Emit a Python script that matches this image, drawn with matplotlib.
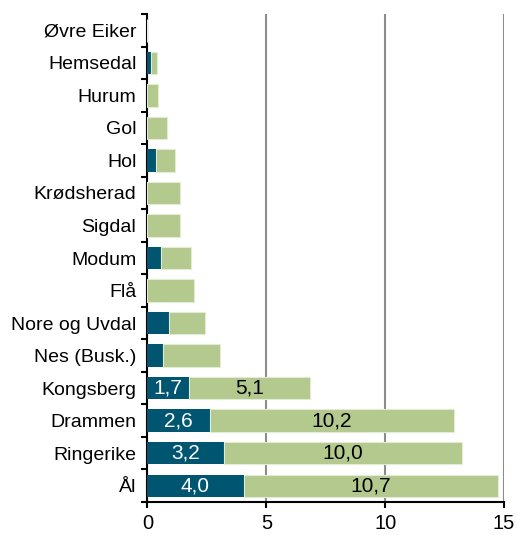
import matplotlib
matplotlib.use("Agg")
import matplotlib.pyplot as plt
import numpy as np

plt.rcParams['font.family'] = ['Liberation Sans', 'DejaVu Sans']

categories = ["Øvre Eiker", "Hemsedal", "Hurum", "Gol", "Hol", "Krødsherad",
              "Sigdal", "Modum", "Flå", "Nore og Uvdal", "Nes (Busk.)",
              "Kongsberg", "Drammen", "Ringerike", "Ål"]
dark_values = [0.0, 0.16, 0.0, 0.0, 0.37, 0.0, 0.0, 0.58, 0.0, 0.89, 0.66,
               1.73, 2.64, 3.2, 4.04]
light_values = [0.0, 0.25, 0.44, 0.81, 0.77, 1.35, 1.35, 1.26, 1.94, 1.53, 2.38,
                5.11, 10.24, 10.04, 10.7]
labelled = ["Kongsberg", "Drammen", "Ringerike", "Ål"]
xticks = [0, 5, 10, 15]

dark_color = "#005570"
light_color = "#b3c98e"

fig = plt.figure(figsize=(5.18, 5.35), dpi=100)
ax = fig.add_axes([0.2847, 0.0617, 0.973 - 0.2847, 0.9738 - 0.0617])

n = len(categories)
y = np.arange(n)[::-1]  # first category at top
h = 0.69

ax.set_axisbelow(True)
ax.barh(y, dark_values, height=h, color=dark_color, zorder=3)
ax.barh(y, light_values, left=dark_values, height=h, color=light_color,
        edgecolor="#e2ebd4", linewidth=0.8, zorder=3)

for cat, yi, d, l in zip(categories, y, dark_values, light_values):
    if cat in labelled:
        ax.text(d / 2, yi, f"{d:.1f}".replace(".", ","), ha="center", va="center",
                color="white", fontsize=15, zorder=4)
        ax.text(d + l / 2, yi, f"{l:.1f}".replace(".", ","), ha="center", va="center",
                color="black", fontsize=15, zorder=4)

ax.set_xlim(0, 15)
ax.set_ylim(-0.5, n - 0.5)
ax.set_xticks(xticks)
ax.set_xticklabels([str(t) for t in xticks], fontsize=14.5)
ax.set_yticks(y)
ax.set_yticklabels(categories, fontsize=14)
ax.set_yticks(np.arange(-0.5, n, 1.0), minor=True)

ax.tick_params(axis="y", which="major", length=0, pad=8)
ax.tick_params(axis="y", which="minor", length=4, width=1.5, color="black")
ax.tick_params(axis="x", which="major", length=4, width=1.5, pad=5, color="black")

ax.xaxis.grid(True, color="#8c8c8c", linewidth=1.5)
ax.yaxis.grid(False)

for s in ["top", "right"]:
    ax.spines[s].set_visible(False)
for s in ["left", "bottom"]:
    ax.spines[s].set_color("black")
    ax.spines[s].set_linewidth(1.5)

fig.savefig("out.png", dpi=100)
